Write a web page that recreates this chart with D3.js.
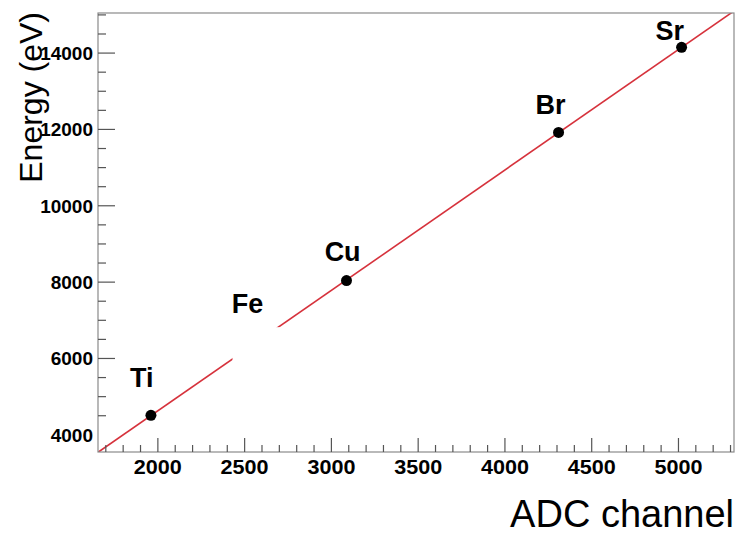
<!DOCTYPE html>
<meta charset="utf-8">
<style>

body {
  margin: 0;
  background: #fff;
}

.tick-label {
  font: bold 19px "Liberation Sans", Arial, sans-serif;
  fill: #000;
}

.point-label {
  font: bold 27px "Liberation Sans", Arial, sans-serif;
  fill: #000;
}

.axis-title {
  font: 32px "Liberation Sans", Arial, sans-serif;
  fill: #000;
}

</style>
<body>
<script src="https://d3js.org/d3.v7.min.js"></script>
<script>

// calibration points: element, ADC channel, X-ray energy (eV)
var elements = ["Ti", "Fe", "Cu", "Br", "Sr"];
var channels = [1960, 2560, 3087, 4309, 5018];
var energies = [4510, 6400, 8040, 11920, 14150];

// where each element name sits, in data units
var labelChannels = [1840, 2426, 2961, 4176, 4867];
var labelEnergies = [5240, 7190, 8553, 12395, 14342];

// blank patch over the Fe point, in data units
var maskChannels = [2430, 2720];
var maskEnergies = [5500, 6820];

var xDomain = [1655, 5320],
    yDomain = [3550, 15050];

var xMajor = d3.range(2000, 5001, 500),
    xMinor = d3.range(1700, 5301, 100),
    yMajor = d3.range(4000, 14001, 2000),
    yMinor = d3.range(4500, 15001, 500);

var width = 739,
    height = 534,
    plotLeft = 98,
    plotRight = 734,
    plotTop = 13,
    plotBottom = 452;

var x = d3.scaleLinear().domain(xDomain).range([plotLeft, plotRight]);
var y = d3.scaleLinear().domain(yDomain).range([plotBottom, plotTop]);

// straight line fit, E = a + b * ch
var mx = d3.mean(channels),
    my = d3.mean(energies);
var b = d3.sum(channels, function(c, i) { return (c - mx) * (energies[i] - my); }) /
        d3.sum(channels, function(c) { return (c - mx) * (c - mx); });
var a = my - b * mx;

var svg = d3.select("body").append("svg")
    .attr("width", width)
    .attr("height", height);

svg.append("clipPath")
    .attr("id", "frame")
  .append("rect")
    .attr("x", plotLeft)
    .attr("y", plotTop)
    .attr("width", plotRight - plotLeft)
    .attr("height", plotBottom - plotTop);

// fit line
svg.append("line")
    .attr("clip-path", "url(#frame)")
    .attr("x1", x(xDomain[0]))
    .attr("y1", y(a + b * xDomain[0]))
    .attr("x2", x(xDomain[1]))
    .attr("y2", y(a + b * xDomain[1]))
    .style("stroke", "#d6323c")
    .style("stroke-width", 1.6);

// points
svg.selectAll(".dot")
    .data(elements)
  .enter().append("circle")
    .attr("class", "dot")
    .attr("cx", function(d, i) { return x(channels[i]); })
    .attr("cy", function(d, i) { return y(energies[i]); })
    .attr("r", 5.5)
    .style("fill", "#000");

// white patch
svg.append("rect")
    .attr("x", x(maskChannels[0]))
    .attr("y", y(maskEnergies[1]))
    .attr("width", x(maskChannels[1]) - x(maskChannels[0]))
    .attr("height", y(maskEnergies[0]) - y(maskEnergies[1]))
    .style("fill", "#fff");

svg.selectAll(".point-label")
    .data(elements)
  .enter().append("text")
    .attr("class", "point-label")
    .attr("x", function(d, i) { return x(labelChannels[i]); })
    .attr("y", function(d, i) { return y(labelEnergies[i]); })
    .text(function(d) { return d; });

// frame
svg.append("rect")
    .attr("x", plotLeft)
    .attr("y", plotTop)
    .attr("width", plotRight - plotLeft)
    .attr("height", plotBottom - plotTop)
    .style("fill", "none")
    .style("stroke", "#8a8a8a")
    .style("stroke-width", 1.2);

// ticks
var tickColor = "#555";

svg.selectAll(".xtick")
    .data(xMinor)
  .enter().append("line")
    .attr("class", "xtick")
    .attr("x1", x).attr("x2", x)
    .attr("y1", plotBottom).attr("y2", function(d) { return plotBottom - (xMajor.indexOf(d) >= 0 ? 14 : 7); })
    .style("stroke", tickColor)
    .style("stroke-width", 1.2);

svg.selectAll(".ytick")
    .data(yMinor)
  .enter().append("line")
    .attr("class", "ytick")
    .attr("y1", y).attr("y2", y)
    .attr("x1", plotLeft).attr("x2", function(d) { return plotLeft + (yMajor.indexOf(d) >= 0 ? 17 : 8); })
    .style("stroke", tickColor)
    .style("stroke-width", 1.2);

svg.selectAll(".xlabel")
    .data(xMajor)
  .enter().append("text")
    .attr("class", "tick-label xlabel")
    .attr("x", x)
    .attr("y", 474)
    .attr("text-anchor", "middle")
    .attr("textLength", 48)
    .attr("lengthAdjust", "spacingAndGlyphs")
    .style("font-size", "20px")
    .text(function(d) { return d; });

svg.selectAll(".ylabel")
    .data(yMajor)
  .enter().append("text")
    .attr("class", "tick-label ylabel")
    .attr("x", 93)
    .attr("y", y)
    .attr("dy", "0.36em")
    .attr("text-anchor", "end")
    .text(function(d) { return d; });

svg.append("text")
    .attr("class", "axis-title")
    .attr("x", 734)
    .attr("y", 527)
    .attr("text-anchor", "end")
    .style("font-size", "38px")
    .text("ADC channel");

svg.append("text")
    .attr("class", "axis-title")
    .attr("transform", "translate(42,12)rotate(-90)")
    .attr("text-anchor", "end")
    .text("Energy (eV)");

</script>
</body>
